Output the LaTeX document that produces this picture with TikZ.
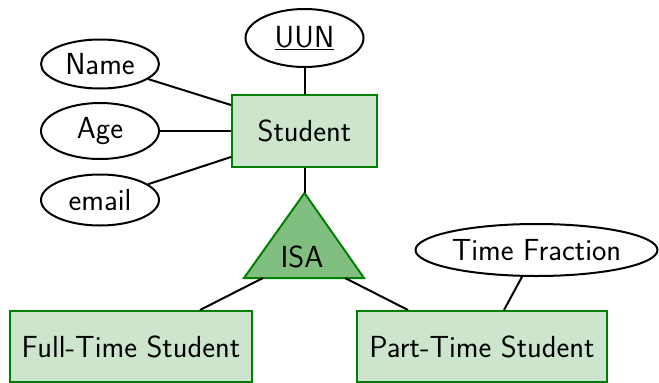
\documentclass[tikz,border=0pt]{standalone}
\usetikzlibrary{shapes.geometric}
\begin{document}
\begin{tikzpicture}[x=1pt,y=-1pt,
  every node/.style={font=\sffamily\fontsize{30.5}{34}\selectfont},
  attr/.style={draw=black,line width=2pt,ellipse,fill=white,inner sep=0pt},
  entity/.style={draw=green!50!black,fill=green!50!black!20,line width=2pt,rectangle,inner sep=0pt},
  conn/.style={line width=2pt,draw=black},
  isafill/.style={draw=green!50!black,fill=green!50!black!50,line width=2pt,line join=miter}]
\useasboundingbox (0,0) rectangle (659,383);
% entities
\node[entity,minimum width=145pt,minimum height=72pt] (student) at (304.5,131) {Student};
\node[entity,minimum width=242pt,minimum height=71pt] (fts) at (131,346.5) {Full-Time Student};
\node[entity,minimum width=250pt,minimum height=71pt] (pts) at (482,346.5) {Part-Time Student};
% attributes
\node[attr,minimum width=118pt,minimum height=58pt] (uun) at (304.5,38) {\underline{UUN}};
\node[attr,minimum width=118pt,minimum height=49pt] (name) at (100,64) {Name};
\node[attr,minimum width=118pt,minimum height=56pt] (age) at (100,131) {Age};
\node[attr,minimum width=118pt,minimum height=51pt] (email) at (100,200) {email};
\node[attr,minimum width=242pt,minimum height=52pt] (tf) at (536.5,250) {Time Fraction};
% ISA triangle
\coordinate (top) at (304.5,193);
\coordinate (bl) at (244,278);
\coordinate (br) at (364,278);
\draw[isafill] (top) -- (bl) -- (br) -- cycle;
\node (isa) at (302,257) {ISA};
\coordinate (isal) at (263,278);
\coordinate (isar) at (345,278);
% connectors
\draw[conn] (uun) -- (student);
\draw[conn] (name) -- ([yshift=-11pt]student.north west);
\draw[conn] (age) -- (student.west);
\draw[conn] (email) -- ([yshift=11pt]student.south west);
\draw[conn] (student.south) -- (top);
\draw[conn] (isal) -- ([xshift=69pt]fts.north);
\draw[conn] (isar) -- ([xshift=-74pt]pts.north);
\draw[conn] (tf) -- ([xshift=22pt]pts.north);
\end{tikzpicture}
\end{document}
